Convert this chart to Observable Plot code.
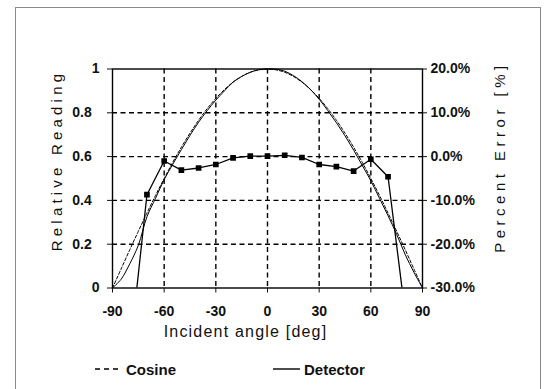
<!DOCTYPE html>
<html><head><meta charset="utf-8">
<script src="https://cdn.jsdelivr.net/npm/d3@7"></script>
<script src="https://cdn.jsdelivr.net/npm/@observablehq/plot@0.6"></script>
<style>
html,body{margin:0;padding:0;background:#fff;width:546px;height:389px;overflow:hidden;font-family:"Liberation Sans",Arial,sans-serif;}
#wrap{position:relative;width:546px;height:389px;}
#border{position:absolute;left:15px;top:7px;width:526px;height:420px;border:1.5px solid #8a8a8a;box-sizing:border-box;pointer-events:none}
#chart{position:absolute;left:0;top:0}
#legend{position:absolute;left:0;top:357px;width:546px;height:24px;font-size:15px;font-weight:bold;color:#111}
.item{position:absolute;top:0;height:24px;display:flex;align-items:center}
.item svg{display:block;margin-right:4px}
</style></head><body>
<div id="wrap"><div id="chart"></div><div id="legend"></div><div id="border"></div></div>
<script>
// ---- data ----
const angles = [-90,-85,-80,-75,-70,-65,-60,-55,-50,-45,-40,-35,-30,-25,-20,-15,-10,-5,0,5,10,15,20,25,30,35,40,45,50,55,60,65,70,75,80,85,90];
const cosine = [0,0.087,0.174,0.259,0.342,0.423,0.5,0.574,0.643,0.707,0.766,0.819,0.866,0.906,0.94,0.966,0.985,0.996,1,0.996,0.985,0.966,0.94,0.906,0.866,0.819,0.766,0.707,0.643,0.574,0.5,0.423,0.342,0.259,0.174,0.087,0];
const detector = [0,0.04,0.11,0.195,0.325,0.41,0.495,0.565,0.632,0.697,0.757,0.81,0.858,0.9,0.94,0.966,0.985,0.997,1,0.999,0.99,0.97,0.942,0.906,0.862,0.81,0.755,0.695,0.63,0.56,0.49,0.41,0.33,0.245,0.152,0.072,0];
const errAngles = [-80,-70,-60,-50,-40,-30,-20,-10,0,10,20,30,40,50,60,70,80];
const errPercent = [-45,-8.7,-1.0,-3.1,-2.6,-1.8,-0.3,0.1,0.1,0.3,-0.2,-1.8,-2.3,-3.3,-0.6,-4.6,-36];
const xTicks = [-90,-60,-30,0,30,60,90];
const yTicks = [0,0.2,0.4,0.6,0.8,1];
const leftLabels = ["0","0.2","0.4","0.6","0.8","1"];
const rightLabels = ["-30.0%","-20.0%","-10.0%","0.0%","10.0%","20.0%"];
const xTitle = "Incident angle [deg]";
const yTitle = "Relative Reading";
const y2Title = "Percent Error [%]";
const legendItems = [{name:"Cosine", dash:"5,4", x:95},{name:"Detector", dash:null, x:273}];

// percent error (right axis) -> relative reading (left axis)
const errToY = p => 0.6 + p/50;

const cosRows = angles.map((a,i)=>({a, v:cosine[i]}));
const detRows = angles.map((a,i)=>({a, v:detector[i]}));
const errRows = errAngles.map((a,i)=>({a, v:errToY(errPercent[i])}));

const font = '"Liberation Sans", Arial, sans-serif';
const chart = Plot.plot({
  width:546, height:345,
  marginLeft:112, marginRight:124, marginTop:68.5, marginBottom:57.5,
  x:{domain:[-90,90]},
  y:{domain:[0,1]},
  style:{fontFamily:font, fontSize:"14px", fontWeight:"bold", color:"#111", background:"transparent", overflow:"visible"},
  marks:[
    Plot.gridX(xTicks.slice(1,-1), {stroke:"#000", strokeOpacity:1, strokeWidth:1.4, strokeDasharray:"5,3.5"}),
    Plot.gridY(yTicks.slice(1,-1), {stroke:"#000", strokeOpacity:1, strokeWidth:1.4, strokeDasharray:"5,3.5"}),
    Plot.line(cosRows, {x:"a", y:"v", stroke:"#000", strokeWidth:1, strokeDasharray:"3,2", curve:"catmull-rom"}),
    Plot.line(detRows, {x:"a", y:"v", stroke:"#000", strokeWidth:1, curve:"catmull-rom"}),
    Plot.line(errRows, {x:"a", y:"v", stroke:"#000", strokeWidth:1.3, clip:true}),
    Plot.dot(errRows, {x:"a", y:"v", symbol:"square", fill:"#000", r:3.2, clip:true}),
    Plot.frame({stroke:"#000", strokeWidth:1.4}),
    Plot.axisX(xTicks, {anchor:"bottom", tickSize:5, tickPadding:13, tickFormat:d=>String(d), label:null, fontSize:14, fontWeight:"bold"}),
    Plot.axisY(yTicks, {anchor:"left", tickSize:5, tickPadding:8, tickFormat:d=>{const s=leftLabels[Math.round(d*5)]; return s.length>1 ? s+"\u2007" : s;}, label:null, fontSize:14, fontWeight:"bold"}),
    Plot.axisY(yTicks, {anchor:"right", tickSize:4, tickPadding:4, tickFormat:d=>rightLabels[Math.round(d*5)], label:null, fontSize:14, fontWeight:"bold"}),
    Plot.text([xTitle], {text:d=>d, frameAnchor:"bottom", dx:-22, dy:43.5, lineAnchor:"middle", textAnchor:"middle", fontSize:16, fontWeight:"normal"}),
    Plot.text([yTitle], {text:d=>d, frameAnchor:"left", dx:-55, dy:-18, rotate:-90, lineAnchor:"middle", textAnchor:"middle", fontSize:15, fontWeight:"normal"}),
    Plot.text([y2Title], {text:d=>d, frameAnchor:"right", dx:78, dy:-21.5, rotate:-90, lineAnchor:"middle", textAnchor:"middle", fontSize:15, fontWeight:"normal"})
  ]
});
document.getElementById("chart").appendChild(chart);
const svg = d3.select(chart);
const spacing = {[xTitle]:"1.2px", [yTitle]:"4.2px", [y2Title]:"4.5px"};
svg.selectAll("text").each(function(){
  const t = this.textContent;
  if (spacing[t]) this.setAttribute("letter-spacing", spacing[t]);
});

// legend below the chart
const lg = d3.select("#legend");
legendItems.forEach(it=>{
  const d = lg.append("div").attr("class","item").style("left", it.x+"px");
  const s = d.append("svg").attr("width",27).attr("height",10);
  const l = s.append("line").attr("x1",0).attr("x2",27).attr("y1",5).attr("y2",5).attr("stroke","#000").attr("stroke-width",1.4);
  if (it.dash) l.attr("stroke-dasharray", it.dash);
  d.append("span").text(it.name);
});
</script>
</body></html>
